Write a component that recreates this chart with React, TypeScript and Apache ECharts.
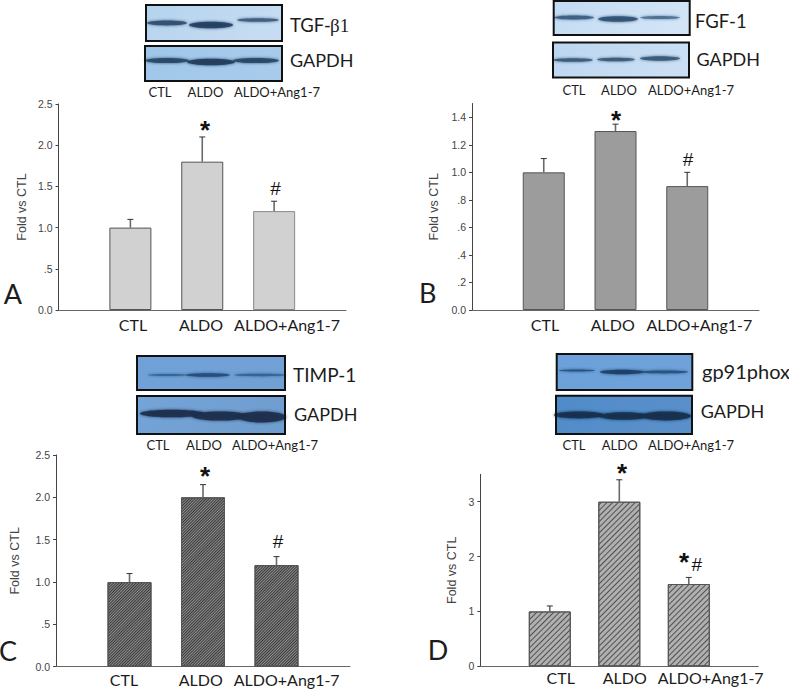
import React, { useEffect, useRef } from "react";
import * as echarts from "echarts";

const categories = ["CTL", "ALDO", "ALDO+Ang1-7"];
const valuesA = [1.0, 1.8, 1.2];
const errorsA = [0.1, 0.3, 0.12];
const valuesB = [1.0, 1.3, 0.9];
const errorsB = [0.1, 0.05, 0.1];
const valuesC = [1.0, 2.0, 1.2];
const errorsC = [0.1, 0.15, 0.1];
const valuesD = [1.0, 3.0, 1.5];
const errorsD = [0.1, 0.4, 0.12];
const ticksA = ["0.0", ".5", "1.0", "1.5", "2.0", "2.5"];
const tickValuesA = [0, 0.5, 1, 1.5, 2, 2.5];
const ticksB = ["0.0", ".2", ".4", ".6", ".8", "1.0", "1.2", "1.4"];
const tickValuesB = [0, 0.2, 0.4, 0.6, 0.8, 1, 1.2, 1.4];
const ticksD = ["0", "1", "2", "3"];
const tickValuesD = [0, 1, 2, 3];

const SANS = "Lato";
const ARIAL = "Liberation Sans";

type Panel = {
  left: number; right: number; top: number; bottom: number; max: number;
  values: number[]; errors: number[]; tickValues: number[]; ticks: string[];
  fill: string; barW: number; nameGap: number; decal?: any; lastBorder?: string;
  labelX: number[]; labelY: number; small: number[]; smallY: number;
};

const panels: Panel[] = [
  { left: 58.5, right: 346, top: 104, bottom: 310, max: 2.5, values: valuesA, errors: errorsA,
    tickValues: tickValuesA, ticks: ticksA, fill: "#d1d1d1", barW: 42, nameGap: 30, lastBorder: "#888",
    labelX: [133, 201, 287], labelY: 324, small: [160, 205.5, 277], smallY: 92 },
  { left: 472, right: 759, top: 103.5, bottom: 310, max: 1.5, values: valuesB, errors: errorsB,
    tickValues: tickValuesB, ticks: ticksB, fill: "#9c9c9c", barW: 42, nameGap: 32,
    labelX: [545, 612.7, 699.3], labelY: 324, small: [574, 619, 691], smallY: 90 },
  { left: 56, right: 350, top: 455, bottom: 666.7, max: 2.5, values: valuesC, errors: errorsC,
    tickValues: tickValuesA, ticks: ticksA, fill: "#8c8c8c", barW: 44, nameGap: 35,
    decal: { symbol: "rect", dashArrayX: [1, 0], dashArrayY: [1, 1], rotation: -Math.PI / 4, color: "#3a3a3a" },
    labelX: [124, 200.7, 286.7], labelY: 679, small: [158, 204, 275], smallY: 445 },
  { left: 480.3, right: 758.3, top: 474.3, bottom: 666.3, max: 3.5, values: valuesD, errors: errorsD,
    tickValues: tickValuesD, ticks: ticksD, fill: "#b0b0b0", barW: 42, nameGap: 22,
    decal: { symbol: "rect", dashArrayX: [1, 0], dashArrayY: [1, 3], rotation: -Math.PI / 4, color: "#505050" },
    labelX: [560.7, 624.7, 710.7], labelY: 677.7, small: [574, 619.7, 691], smallY: 444.7 },
];

type Band = [number, number, number, number, string];
const blot = (x: number, y: number, w: number, h: number, c0: string, c1: string, bands: Band[]) => ({
  type: "group",
  children: [
    { type: "rect", shape: { x, y, width: w, height: h },
      style: { fill: new echarts.graphic.LinearGradient(0, 0, 1, 0.3, [{ offset: 0, color: c0 }, { offset: 1, color: c1 }]), stroke: "none" } },
    ...bands.map(([cx, cy, rx, ry, color]) => ({
      type: "ellipse", shape: { cx, cy, rx, ry },
      style: { fill: color, opacity: 0.88, shadowBlur: 3, shadowColor: color },
    })),
    { type: "rect", shape: { x, y, width: w, height: h }, style: { fill: "none", stroke: "#111", lineWidth: 2 } },
  ],
});

const txt = (x: number, y: number, text: string, fontSize: number, opts: any = {}) => ({
  type: "text", x, y,
  style: { text, fontSize, fontFamily: SANS, fill: "#1c1c1c", align: "center", verticalAlign: "middle", ...opts },
});
const star = (x: number, y: number) => txt(x, y + 5, "*", 26, { fontFamily: ARIAL, fontWeight: "bold", fill: "#111" });
const hash = (x: number, y: number) => txt(x, y, "#", 19, { fontFamily: ARIAL, fill: "#111" });

export default function App() {
  const ref = useRef<HTMLDivElement>(null);
  useEffect(() => {
    const chart = echarts.init(ref.current!, undefined, { renderer: "svg" });
    const grid: any[] = [], xAxis: any[] = [], yAxis: any[] = [], series: any[] = [];
    panels.forEach((p, i) => {
      grid.push({ left: p.left, top: p.top, width: p.right - p.left, height: p.bottom - p.top });
      xAxis.push({
        gridIndex: i, type: "category", boundaryGap: false, data: ["", ...categories, ""],
        axisLine: { lineStyle: { color: "#666", width: 1 } }, axisTick: { show: false }, axisLabel: { show: false },
        splitLine: { show: false },
      });
      yAxis.push({
        gridIndex: i, type: "value", min: 0, max: p.max,
        name: "Fold vs CTL", nameLocation: "middle", nameRotate: 90, nameGap: p.nameGap,
        nameTextStyle: { fontFamily: ARIAL, fontSize: 12.5, color: "#444" },
        axisLine: { show: true, lineStyle: { color: "#444", width: 1 } },
        axisTick: { show: true, length: 3, lineStyle: { color: "#444" }, customValues: p.tickValues },
        axisLabel: {
          fontFamily: ARIAL, fontSize: 10.5, color: "#444", margin: 6, customValues: p.tickValues,
          formatter: (v: number) => p.ticks[p.tickValues.findIndex((t) => Math.abs(t - v) < 1e-6)] ?? "",
        },
        splitLine: { show: false },
      });
      series.push({
        type: "bar", xAxisIndex: i, yAxisIndex: i, barWidth: p.barW, z: 2,
        data: [null, ...p.values.map((v, k) => ({
          value: v,
          itemStyle: {
            color: p.fill, borderColor: k === 2 && p.lastBorder ? p.lastBorder : "#555", borderWidth: 1,
            decal: p.decal,
          },
        })), null],
      });
      series.push({
        type: "custom", xAxisIndex: i, yAxisIndex: i, z: 1, silent: true,
        data: p.values.map((v, k) => [k + 1, v, v + p.errors[k]]),
        encode: { x: 0, y: [1, 2] },
        renderItem: (_: any, api: any) => {
          const a = api.coord([api.value(0), api.value(1)]);
          const b = api.coord([api.value(0), api.value(2)]);
          return {
            type: "group",
            children: [
              { type: "line", shape: { x1: a[0], y1: a[1], x2: b[0], y2: b[1] }, style: { stroke: "#6a6a6a", lineWidth: 1.6 } },
              { type: "line", shape: { x1: b[0] - 3, y1: b[1], x2: b[0] + 3, y2: b[1] }, style: { stroke: "#333", lineWidth: 1 } },
            ],
          };
        },
      });
    });

    const graphic: any[] = [
      blot(146, 5, 136, 36, "#b4d3ee", "#c6dcf2", [[167, 23, 20, 2.4, "#2f4d6e"], [211, 25, 22, 3.2, "#233f60"], [258, 20, 21, 1.8, "#3a5a7c"]]),
      blot(145, 46, 137, 35, "#9ec6e9", "#a8cbec", [[167, 60.5, 22, 2.6, "#284664"], [211, 62, 24, 3.2, "#203c5a"], [256, 60.5, 23, 2.6, "#284664"]]),
      blot(553.7, 1, 136, 34, "#c2dbf3", "#d2e4f6", [[574, 17.5, 20, 2, "#3a5c80"], [618, 19, 20, 2.8, "#2e5074"], [660, 17.5, 20, 1.6, "#4a6c90"]]),
      blot(553, 42.5, 136, 35, "#bcd6f0", "#cadff4", [[573, 60, 20, 1.8, "#365878"], [616, 59.5, 19, 1.8, "#365878"], [660, 58.5, 20, 2.2, "#365878"]]),
      blot(137, 356, 148, 34, "#6fa1d8", "#71a0d5", [[168, 375, 20, 1, "#33608f"], [208, 375, 22, 1.8, "#234a76"], [260, 375, 26, 1.2, "#33608f"]]),
      blot(137, 396, 148, 38, "#75a4d8", "#6f9dd0", [[172, 413.5, 32, 3.8, "#1a2e4c"], [220, 416, 28, 4.6, "#1a2e4c"], [262, 417, 24, 5.4, "#1a2e4c"]]),
      blot(556.7, 354, 135.6, 36, "#6ba0da", "#6fa2da", [[577, 370.5, 18, 1, "#254e7c"], [622, 372, 22, 2.2, "#1a3e64"], [664, 372, 24, 1.4, "#254e7c"]]),
      blot(556, 395.7, 136, 38.3, "#4f8bc9", "#5a90ca", [[579, 415, 25, 3.4, "#16304e"], [624, 416, 25, 3.8, "#16304e"], [666, 416, 25, 4.4, "#16304e"]]),

      txt(290, 25, "TGF-", 18.5, { align: "left" }),
      txt(330, 25, "β1", 19, { align: "left", fontFamily: "Liberation Serif" }),
      txt(290, 60, "GAPDH", 18, { align: "left" }),
      txt(695, 21, "FGF-1", 18.5, { align: "left" }),
      txt(696.5, 59, "GAPDH", 18, { align: "left" }),
      txt(293, 374, "TIMP-1", 19, { align: "left" }),
      txt(294, 414, "GAPDH", 18, { align: "left" }),
      txt(702, 371, "gp91phox", 20, { align: "left" }),
      txt(700.7, 411, "GAPDH", 18, { align: "left" }),

      txt(13, 293, "A", 27),
      txt(427.7, 292, "B", 27),
      txt(8, 650, "C", 27),
      txt(438, 649, "D", 27),

      star(205, 125), hash(275.5, 188),
      star(616, 115), hash(688, 159),
      star(205, 471), hash(278, 541),
      star(622, 468), star(684, 557), hash(696.7, 564),
    ];
    panels.forEach((p) => {
      categories.forEach((c, k) => {
        graphic.push(txt(p.labelX[k], p.labelY, c, 16));
        graphic.push(txt(p.small[k], p.smallY, c, 13));
      });
    });

    chart.setOption({ animation: false, backgroundColor: "#fff", grid, xAxis, yAxis, series, graphic });
    return () => chart.dispose();
  }, []);
  return <div ref={ref} style={{ position: "fixed", left: 0, top: 0, width: 789, height: 690 }} />;
}
